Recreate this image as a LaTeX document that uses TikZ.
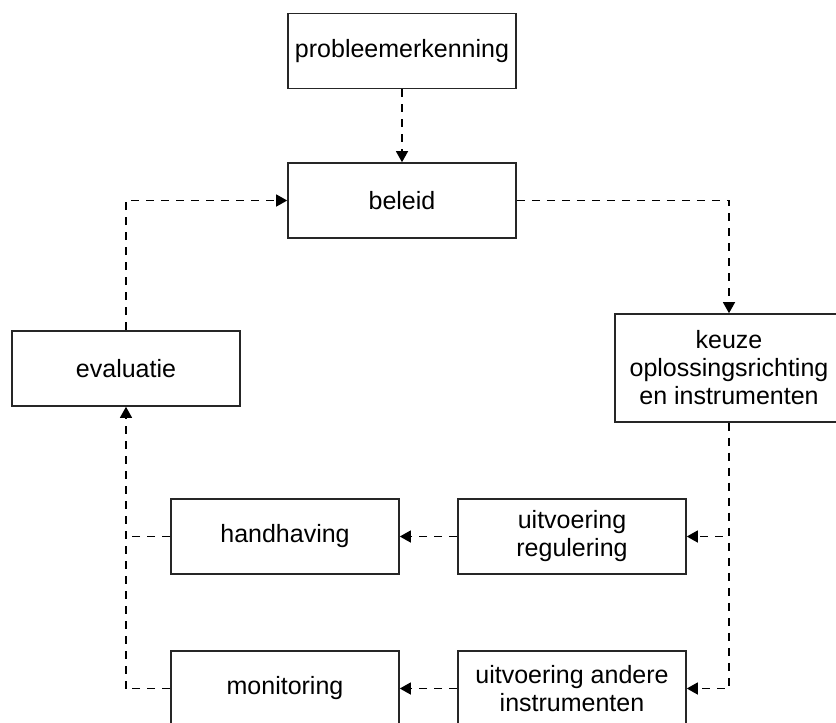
\documentclass[tikz,border=0pt]{standalone}
\usepackage{fontspec}
\setmainfont{Liberation Sans}
\usetikzlibrary{arrows.meta}
\begin{document}
\begin{tikzpicture}[x=0.5pt,y=-0.5pt,
  box/.style={draw=black!85, line width=0.8pt, minimum width=114pt, minimum height=37.5pt,
    inner sep=2pt, align=center, font=\fontsize{12.5}{14}\selectfont},
  plain/.style={line width=0.65pt, dash pattern=on 4pt off 3.5pt},
  conn/.style={plain, -{Triangle[length=5.5pt,width=6pt]}}]
\useasboundingbox (0,0) rectangle (836,723);
\node[box] (prob) at (402,51) {probleemerkenning};
\node[box] (bel) at (402,200.5) {beleid};
\node[box] (eval) at (126,368.5) {evaluatie};
\node[box, minimum height=54pt] (keuze) at (729,368) {keuze\\oplossingsrichting\\en instrumenten};
\node[box] (hand) at (285,536.5) {handhaving};
\node[box] (ureg) at (572,536.5) {uitvoering\\regulering};
\node[box] (mon) at (285,688.5) {monitoring};
\node[box] (uand) at (572,688.5) {uitvoering andere\\instrumenten};
\coordinate (cl) at (eval.south |- mon.west);
\draw[conn] (prob) -- (bel);
\draw[conn] (eval.north) |- (bel.west);
\draw[conn] (bel.east) -| (keuze.north);
\draw[conn] (keuze.south) |- (ureg.east);
\draw[conn] (keuze.south) |- (uand.east);
\draw[conn] (ureg) -- (hand);
\draw[conn] (uand) -- (mon);
\draw[plain] (hand.west) -- (hand.west -| eval.south);
\draw[plain] (mon.west) -- (cl);
\draw[conn] (cl) -- (eval.south);
\end{tikzpicture}
\end{document}
